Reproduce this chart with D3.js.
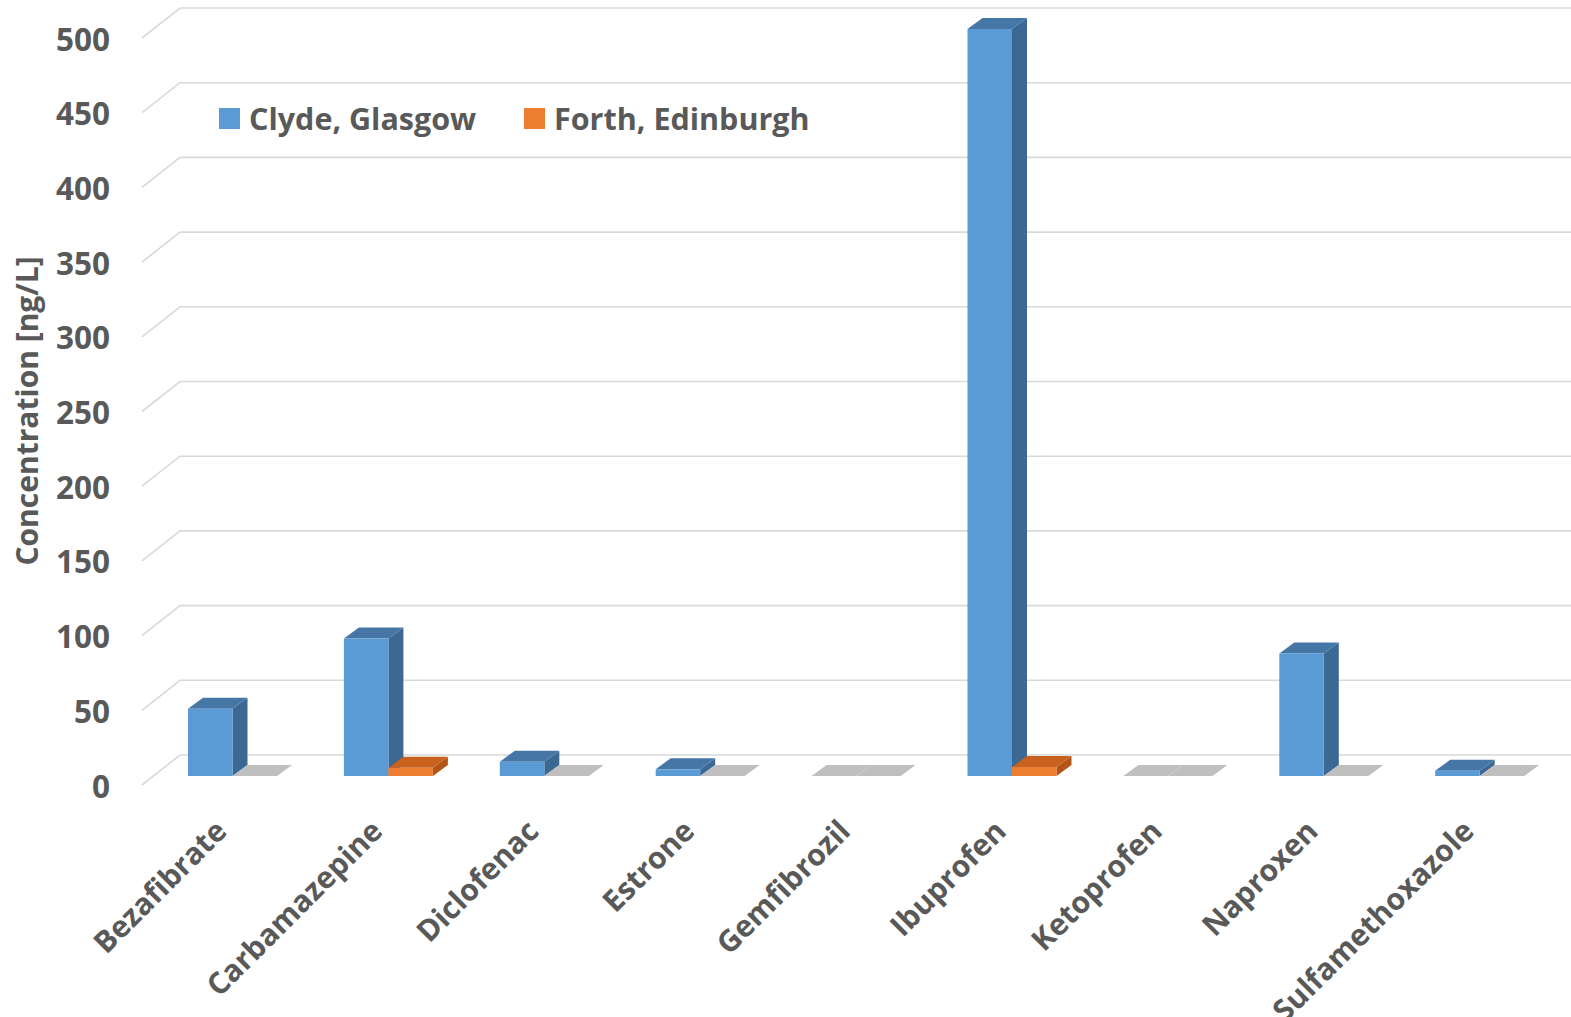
<!DOCTYPE html>
<html>
<head>
<meta charset="utf-8">
<script src="https://cdn.jsdelivr.net/npm/d3@7"></script>
<style>
  html, body { margin: 0; padding: 0; background: #fff; }
  text { font-family: "Open Sans", sans-serif; font-weight: 700; fill: #595959; }
</style>
</head>
<body>
<svg id="chart" width="1571" height="1017"></svg>
<script>
// data
var categories = ["Bezafibrate", "Carbamazepine", "Diclofenac", "Estrone", "Gemfibrozil",
                  "Ibuprofen", "Ketoprofen", "Naproxen", "Sulfamethoxazole"];
var series = ["Clyde, Glasgow", "Forth, Edinburgh"];
var clyde = [45, 92, 9.5, 4.5, 0, 500, 0, 82, 3.5];
var forth = [0, 5.5, 0, 0, 0, 6, 0, 0, 0];
var yTicks = [0, 50, 100, 150, 200, 250, 300, 350, 400, 450, 500];

var colors = {
    "Clyde, Glasgow": { front: "#5b9bd5", side: "#3c6994", top: "#4676a6" },
    "Forth, Edinburgh": { front: "#ed7d31", side: "#b35419", top: "#c9621f" }
};
var zeroColor = "#bfbfbf";

var svg = d3.select("#chart");

var x = d3.scaleBand().domain(categories).range([153, 153 + 9 * 155.9]); // category bands
var xs = d3.scaleBand().domain(series).range([35, 124]); // series within band
var y = d3.scaleLinear().domain([0, 500]).range([776, 29]);

var DX = 15, DY = -11; // depth of a column
var FX0 = 142, FX1 = 180; // floor front / back x at left wall

// gridlines (diagonal on the left side wall, then along the back wall)
var grid = svg.append("g");
yTicks.forEach(function (v) {
    grid.append("path")
        .attr("d", "M" + FX0 + "," + (y(v) + 9) + "L" + FX1 + "," + (y(v) - 21) + "L1571," + (y(v) - 21))
        .attr("fill", "none")
        .attr("stroke", "#d9d9d9")
        .attr("stroke-width", 1.6);
    svg.append("text")
        .attr("x", 110)
        .attr("y", y(v) + 9)
        .attr("text-anchor", "end")
        .attr("dominant-baseline", "central")
        .style("font-size", "31.5px")
        .text(v);
});

// columns
var rows = [];
categories.forEach(function (c, i) {
    rows.push({ cat: c, s: series[0], v: clyde[i] });
    rows.push({ cat: c, s: series[1], v: forth[i] });
});

var bars = svg.append("g");
rows.forEach(function (d) {
    var x0 = x(d.cat) + xs(d.s), w = xs.bandwidth();
    var yb = y(0), yt = y(d.v);
    var col = colors[d.s];
    var g = bars.append("g");
    if (d.v == 0) { // zero columns only show a flat grey top
        g.append("path")
            .attr("d", "M" + x0 + "," + yb + "L" + (x0 + w) + "," + yb + "L" + (x0 + w + DX) + "," + (yb + DY) +
                "L" + (x0 + DX) + "," + (yb + DY) + "Z")
            .attr("fill", zeroColor);
        return;
    }
    g.append("path") // side
        .attr("d", "M" + (x0 + w) + "," + yb + "L" + (x0 + w + DX) + "," + (yb + DY) + "L" + (x0 + w + DX) + "," + (yt + DY) +
            "L" + (x0 + w) + "," + yt + "Z")
        .attr("fill", col.side);
    g.append("path") // top
        .attr("d", "M" + x0 + "," + yt + "L" + (x0 + w) + "," + yt + "L" + (x0 + w + DX) + "," + (yt + DY) +
            "L" + (x0 + DX) + "," + (yt + DY) + "Z")
        .attr("fill", col.top);
    g.append("rect") // front
        .attr("x", x0)
        .attr("y", yt)
        .attr("width", w)
        .attr("height", yb - yt)
        .attr("fill", col.front);
});

// category labels
svg.append("g").selectAll("text")
    .data(categories)
    .enter()
    .append("text")
    .attr("text-anchor", "end")
    .style("font-size", "30px")
    .attr("transform", function (c) {
        var cx = x(c) + xs.range()[0] + (xs.range()[1] - xs.range()[0]) / 2;
        return "translate(" + (cx - 4) + ",833)rotate(-45)";
    })
    .text(function (c) { return c; });

// y axis title
svg.append("text")
    .attr("transform", "translate(38,411)rotate(-90)")
    .attr("text-anchor", "middle")
    .style("font-size", "30px")
    .text("Concentration [ng/L]");

// legend
var legend = svg.append("g");
var legX = [219, 524];
series.forEach(function (s, i) {
    legend.append("rect")
        .attr("x", legX[i]).attr("y", 108)
        .attr("width", 21).attr("height", 21)
        .attr("fill", colors[s].front);
    legend.append("text")
        .attr("x", legX[i] + 30)
        .attr("y", 118)
        .attr("dominant-baseline", "central")
        .style("font-size", "30.5px")
        .text(s);
});
</script>
</body>
</html>
